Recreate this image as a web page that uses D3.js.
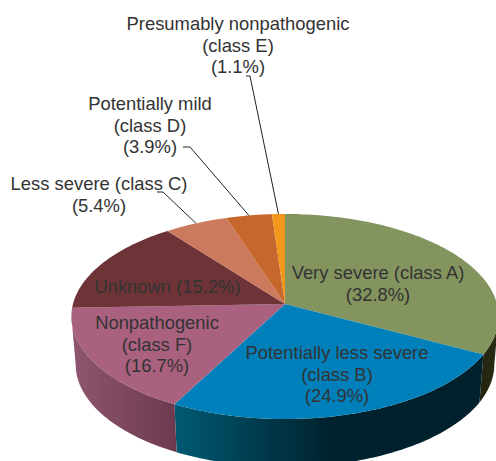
<!DOCTYPE html>
<html>
<head>
<meta charset="utf-8">
<script src="https://cdn.jsdelivr.net/npm/d3@7"></script>
<style>
html, body { margin: 0; padding: 0; background: #fff; }
text { font-family: "Liberation Sans", Arial, sans-serif; font-size: 18.4px; fill: #333; text-anchor: middle; }
</style>
</head>
<body>
<div id="chart"></div>
<script>
// slices, clockwise from 12 o'clock
const names = ["Very severe (class A)", "Potentially less severe", "Nonpathogenic", "Unknown", "Less severe (class C)", "Potentially mild", "Presumably nonpathogenic"];
const classes = ["", "(class B)", "(class F)", "", "", "(class D)", "(class E)"];
const values = [32.8, 24.9, 16.7, 15.2, 5.4, 3.9, 1.1];
const colors = ["#83945f", "#0080ba", "#a9617f", "#6e3337", "#cc7a5e", "#c6682d", "#f2961c"];

// label layout: centre x and first baseline, one entry per slice
const labelX = [378, 337, 157, 167.5, 99, 150, 238];
const labelY = [279, 359, 329, 293, 190, 110, 30];
const lineGap = 21.5;
// leader elbows for the three small slices (index into values, then elbow start)
const leaders = [
    {i: 4, x0: 157, x1: 163, y: 192},
    {i: 5, x0: 183, x1: 190, y: 147},
    {i: 6, x0: 246, x1: 250, y: 76}
];

// side wall gradients, left to right on screen
const walls = [
    {i: 0, stops: ["#23240f", "#2b2d14"]},
    {i: 1, stops: ["#005a72", "#00222e", "#00212c"]},
    {i: 2, stops: ["#8f566f", "#6c3a50"]}
];

const width = 496, height = 461;
const svg = d3.select("#chart").append("svg")
    .attr("width", width)
    .attr("height", height)
    .style("display", "block");

// tilted disc: perspective projection of a circle
const cx = 285, cy = 304, rx = 212, ry = 101, k = 0.122;
const depth = 48, bottomScale = 0.98;
const project = (a, low) => {
    const u = Math.sin(a), v = -Math.cos(a), w = 1 - k * v;
    const s = low ? bottomScale : 1;
    return [cx + s * rx * u / w, cy + (low ? depth : 0) + ry * v / w];
};
const arcPoints = (a0, a1, low) => {
    const n = Math.max(2, Math.ceil(Math.abs(a1 - a0) / 0.02));
    return d3.range(n + 1).map(j => project(a0 + (a1 - a0) * j / n, low));
};
const line = d3.line();

const arcs = d3.pie().sort(null).startAngle(0).endAngle(2 * Math.PI)(values);

// side wall first, the top face covers its upper edge
const wallFrom = 97 * Math.PI / 180, wallTo = 263 * Math.PI / 180;
const defs = svg.append("defs");
walls.forEach(w => {
    const d = arcs[w.i];
    const a0 = Math.max(d.startAngle, wallFrom), a1 = Math.min(d.endAngle, wallTo);
    const grad = defs.append("linearGradient").attr("id", "wall" + w.i);
    w.stops.forEach((c, j) => {
        grad.append("stop")
            .attr("offset", j / (w.stops.length - 1))
            .attr("stop-color", c);
    });
    const pts = arcPoints(a0, a1, false).concat(arcPoints(a1, a0, true));
    svg.append("path")
        .attr("d", line(pts) + "Z")
        .attr("fill", `url(#wall${w.i})`);
});

// top face
svg.append("g").selectAll("path")
    .data(arcs)
    .join("path")
    .attr("d", d => line([[cx, cy]].concat(arcPoints(d.startAngle, d.endAngle, false))) + "Z")
    .attr("fill", (d, i) => colors[i]);

// leader lines
svg.append("g").selectAll("path")
    .data(leaders)
    .join("path")
    .attr("d", d => {
        const a = (arcs[d.i].startAngle + arcs[d.i].endAngle) / 2;
        return line([[d.x0, d.y], [d.x1, d.y], project(a, false)]);
    })
    .attr("fill", "none")
    .attr("stroke", "#222")
    .attr("stroke-width", 1);

// labels
const wrapped = names.map((n, i) => {
    const pct = `(${values[i].toFixed(1)}%)`;
    if (i === 3) return [`${n} ${pct}`];
    return classes[i] ? [n, classes[i], pct] : [n, pct];
});
svg.append("g").selectAll("text")
    .data(wrapped)
    .join("text")
    .attr("x", (d, i) => labelX[i])
    .attr("y", (d, i) => labelY[i])
    .selectAll("tspan")
    .data((d, i) => d.map(t => ({t, x: labelX[i]})))
    .join("tspan")
    .attr("x", d => d.x)
    .attr("dy", (d, j) => j ? lineGap : 0)
    .text(d => d.t);
</script>
</body>
</html>
